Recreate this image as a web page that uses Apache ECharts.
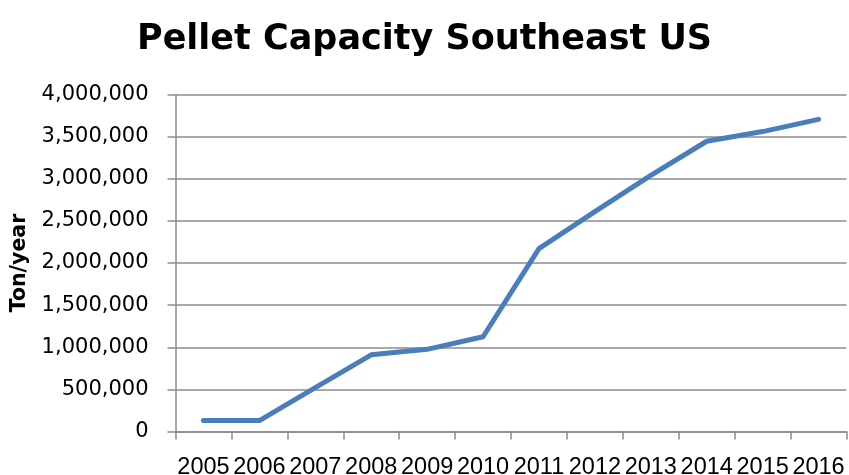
<!DOCTYPE html>
<html>
<head>
<meta charset="utf-8">
<style>
  html, body { margin: 0; padding: 0; background: #ffffff; }
  #chart { width: 849px; height: 475px; }
</style>
<script src="https://cdn.jsdelivr.net/npm/echarts@6/dist/echarts.min.js"></script>
</head>
<body>
<div id="chart"></div>
<script>
// Installed pellet production capacity in the Southeast US, tons per year
var years = ['2005', '2006', '2007', '2008', '2009', '2010', '2011', '2012', '2013', '2014', '2015', '2016'];
var capacity = [130000, 130000, 520000, 910000, 975000, 1125000, 2170000, 2610000, 3040000, 3445000, 3560000, 3705000];
var yTicks = { min: 0, max: 4000000, step: 500000 };

var gridGray = '#8c8c8c';
var labelFont = 'DejaVu Sans';
var xLabelFont = '"Liberation Sans", Arial, sans-serif';

var chart = echarts.init(document.getElementById('chart'), null, { renderer: 'canvas' });

chart.setOption({
  animation: false,
  backgroundColor: '#ffffff',
  title: {
    text: 'Pellet Capacity Southeast US',
    left: 'center',
    top: 17,
    textStyle: {
      fontFamily: labelFont,
      fontWeight: 'bold',
      fontSize: 35,
      color: '#000000'
    }
  },
  grid: {
    left: 175.5,
    right: 2.5,
    top: 94.5,
    bottom: 43.5,
    containLabel: false,
    outerBoundsMode: 'none'
  },
  xAxis: {
    type: 'category',
    data: years,
    boundaryGap: true,
    axisLine: { show: true, lineStyle: { color: gridGray, width: 1.5 } },
    axisTick: { show: true, length: 8, alignWithLabel: false, lineStyle: { color: gridGray, width: 1.5 } },
    axisLabel: {
      interval: 0,
      margin: 24,
      fontFamily: xLabelFont,
      fontSize: 23.5,
      color: '#000000',
      hideOverlap: false
    },
    splitLine: { show: false }
  },
  yAxis: {
    type: 'value',
    min: yTicks.min,
    max: yTicks.max,
    interval: yTicks.step,
    name: 'Ton/year',
    nameLocation: 'middle',
    nameRotate: 90,
    nameGap: 145,
    nameTextStyle: {
      fontFamily: labelFont,
      fontWeight: 'bold',
      fontSize: 20.5,
      color: '#000000'
    },
    axisLine: { show: true, lineStyle: { color: gridGray, width: 1.5 } },
    axisTick: { show: true, length: 8, lineStyle: { color: gridGray, width: 1.5 } },
    axisLabel: {
      margin: 27,
      fontFamily: labelFont,
      fontSize: 21,
      color: '#000000',
      formatter: function (v) { return Number(v).toLocaleString('en-US'); }
    },
    splitLine: { show: true, lineStyle: { color: gridGray, width: 1.5 } }
  },
  series: [{
    type: 'line',
    data: capacity,
    showSymbol: false,
    symbol: 'none',
    lineStyle: { color: '#4a7ebb', width: 5, cap: 'round', join: 'round' },
    itemStyle: { color: '#4a7ebb' }
  }]
});
</script>
</body>
</html>
